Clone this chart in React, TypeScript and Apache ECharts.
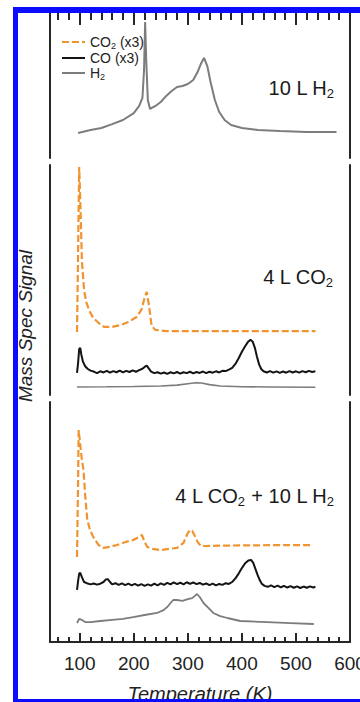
import React, { useEffect, useRef } from "react";
import * as echarts from "echarts";

// ---------- axis ticks ----------
const TEMP_MIN = 45;
const TEMP_MAX = 600;
const MAJOR_TICKS = [100, 200, 300, 400, 500, 600];
const MINOR_TICKS = [60, 80, 120, 140, 160, 180, 220, 240, 260, 280, 320, 340, 360, 380, 420, 440, 460, 480, 520, 540, 560, 580];

// ---------- legend / names ----------
const NAME_CO2 = "CO2 (x3)";
const NAME_CO = "CO (x3)";
const NAME_H2 = "H2";
const LEGEND_NAMES = [NAME_CO2, NAME_CO, NAME_H2];

// ---------- panel 1 : 10 L H2 ----------
const p1H2T = [97, 120, 140, 160, 180, 200, 210, 216, 219, 221, 223, 226, 230, 240, 250, 260, 270, 280, 290, 300, 310, 318, 324, 330, 336, 342, 350, 358, 368, 380, 400, 430, 470, 520, 575];
const p1H2V = [17.2, 19.3, 20.7, 23.4, 26.2, 31, 35.9, 41.4, 60.7, 93.8, 67.6, 40, 33.8, 35.9, 38.6, 42.8, 46.2, 49, 49.7, 51, 53.8, 59.3, 64.8, 69, 63.4, 52.4, 40, 31.7, 26.2, 22.8, 20.7, 19.3, 18.6, 17.9, 17.9];

// ---------- panel 2 : 4 L CO2 ----------
const p2CO2T = [95, 97, 99, 101, 104, 108, 112, 118, 125, 135, 145, 160, 175, 190, 205, 214, 220, 224, 228, 233, 240, 260, 300, 350, 400, 450, 500, 536];
const p2CO2V = [27.4, 63, 99.1, 84.8, 58.7, 45.7, 40.4, 36.5, 33.5, 31.3, 29.6, 29.6, 30.4, 31.7, 33.9, 37, 42.2, 44.8, 39.1, 30, 28.3, 27.8, 27.8, 27.8, 27.8, 27.8, 27.8, 27.8];

const p2COT = [95, 97, 99, 101, 103, 106, 110, 115, 120, 126, 132, 138, 144, 150, 156, 162, 168, 174, 180, 186, 192, 198, 204, 210, 216, 220, 224, 228, 232, 238, 244, 250, 256, 262, 268, 274, 280, 286, 292, 298, 304, 310, 316, 322, 328, 334, 340, 346, 352, 358, 364, 370, 376, 382, 388, 394, 400, 406, 411, 416, 420, 424, 428, 432, 436, 440, 446, 452, 458, 464, 470, 476, 482, 488, 494, 500, 506, 512, 518, 524, 530, 536];
const p2COV = [9.6, 14, 20, 20.5, 17.5, 14.5, 12.5, 11.3, 10.6, 10.2, 9.5, 10.3, 9.8, 10.5, 9.7, 10.4, 9.9, 10.6, 9.8, 10.5, 10.0, 10.7, 10.1, 10.8, 11.4, 12.2, 12.8, 11.5, 10.2, 9.5, 9.9, 9.3, 9.8, 9.2, 9.9, 9.4, 10.0, 9.3, 9.9, 9.5, 10.1, 9.4, 10.0, 9.6, 10.2, 9.5, 10.1, 9.7, 10.3, 9.8, 10.5, 10.4, 11.0, 11.8, 13.5, 16.0, 18.8, 21.2, 23.0, 24.0, 23.2, 20.5, 16.5, 13.2, 11.2, 10.3, 9.8, 10.4, 9.7, 10.3, 9.6, 10.2, 9.7, 10.4, 9.8, 10.3, 9.7, 10.4, 9.9, 10.5, 10.0, 10.3];

const p2H2T = [95, 150, 200, 250, 280, 300, 315, 325, 340, 360, 400, 450, 536];
const p2H2V = [3.5, 3.6, 3.7, 3.9, 4.3, 4.9, 5.3, 5.2, 4.5, 3.9, 3.6, 3.5, 3.4];

// ---------- panel 3 : 4 L CO2 + 10 L H2 ----------
const p3CO2T = [95, 97, 98, 100, 104, 107, 110, 114, 119, 125, 135, 144, 155, 169, 185, 199, 210, 215, 220, 225, 235, 249, 265, 280, 292, 299, 304, 308, 313, 318, 324, 332, 380, 430, 480, 530];
const p3CO2V = [35.4, 67.5, 88.3, 84.2, 75.8, 71.7, 61.3, 50.8, 46.7, 43.8, 40.4, 39.2, 39.6, 40.4, 41.7, 42.5, 43.8, 44.6, 41.7, 39.6, 38.8, 38.3, 38.8, 39.2, 41.3, 45, 46.7, 46.3, 44.2, 41.7, 40, 40, 40.2, 40.3, 40.4, 40.4];

const p3COT = [95, 97, 99, 101, 104, 108, 113, 120, 126, 132, 138, 144, 148, 152, 156, 160, 166, 172, 178, 184, 190, 196, 202, 208, 214, 220, 226, 232, 238, 244, 250, 256, 262, 268, 274, 280, 286, 292, 298, 304, 310, 316, 322, 328, 334, 340, 346, 352, 358, 364, 370, 376, 382, 388, 394, 400, 406, 412, 417, 421, 425, 429, 433, 437, 442, 448, 454, 460, 466, 472, 478, 484, 490, 496, 502, 508, 514, 520, 526, 532, 536];
const p3COV = [21.7, 25.5, 28.5, 28.8, 27, 25, 24.5, 24.0, 24.4, 23.9, 24.3, 25.0, 26.0, 26.2, 25.0, 24.0, 24.5, 23.8, 24.4, 23.7, 24.3, 23.6, 24.2, 23.5, 24.1, 23.4, 24.0, 23.5, 24.3, 23.6, 24.4, 23.8, 24.6, 24.0, 24.8, 24.1, 24.7, 24.0, 24.9, 24.2, 24.8, 24.1, 24.6, 23.9, 24.4, 23.7, 24.3, 23.6, 24.2, 23.8, 24.5, 24.2, 25.0, 26.5, 28.5, 30.8, 32.8, 34.0, 34.2, 33.0, 30.5, 28.0, 25.8, 24.2, 23.4, 23.0, 23.6, 22.9, 23.5, 22.8, 23.4, 22.7, 23.3, 22.6, 23.2, 22.5, 23.1, 22.6, 23.2, 22.7, 23.0];

const p3H2T = [95, 99, 104, 110, 120, 138, 160, 180, 199, 220, 243, 255, 262, 268, 273, 280, 290, 300, 308, 313, 317, 322, 329, 338, 347, 360, 373, 397, 447, 490, 533];
const p3H2V = [7.9, 9.6, 9.2, 8.3, 8.3, 8.75, 9.2, 9.6, 10.4, 11.25, 12.1, 13.3, 14.6, 16.25, 17.5, 17.5, 17.1, 17.9, 18.3, 19.2, 20, 18.75, 16.25, 14.2, 12.1, 10.8, 10, 8.75, 8.3, 7.9, 7.5];

// ---------- styling ----------
const FONT = "'Liberation Sans', Arial, Helvetica, sans-serif";
const ORANGE = "#ef9431";
const BLACK = "#141414";
const GRAY = "#7c7c7c";
const AXIS = "#262626";
const BLUE = "#0c0cff";

const zip = (t: number[], v: number[]) => t.map((x, i) => [x, v[i]]);

function buildOption() {
  const frameY = (gridIndex: number, position: "left" | "right") => ({
    type: "value",
    gridIndex,
    position,
    min: 0,
    max: 100,
    axisLine: { show: true, onZero: false, lineStyle: { color: AXIS, width: 2 } },
    axisTick: { show: false },
    axisLabel: { show: false },
    splitLine: { show: false },
  });

  const baseX = {
    type: "value",
    min: TEMP_MIN,
    max: TEMP_MAX,
    splitLine: { show: false },
  };

  const xAxis = [
    {
      ...baseX,
      gridIndex: 0,
      position: "top",
      axisLine: { show: false, onZero: false },
      axisLabel: { show: false },
      axisTick: { show: true, inside: true, length: 12, customValues: MAJOR_TICKS, lineStyle: { color: AXIS, width: 2 } },
    },
    {
      ...baseX,
      gridIndex: 0,
      position: "top",
      axisLine: { show: false, onZero: false },
      axisLabel: { show: false },
      axisTick: { show: true, inside: true, length: 7, customValues: MINOR_TICKS, lineStyle: { color: AXIS, width: 2 } },
    },
    {
      ...baseX,
      gridIndex: 1,
      position: "bottom",
      axisLine: { show: false, onZero: false },
      axisLabel: { show: false },
      axisTick: { show: false },
    },
    {
      ...baseX,
      gridIndex: 2,
      position: "bottom",
      axisLine: { show: true, onZero: false, lineStyle: { color: AXIS, width: 2 } },
      axisTick: { show: true, inside: true, length: 9, customValues: MAJOR_TICKS, lineStyle: { color: AXIS, width: 2 } },
      axisLabel: { show: true, customValues: MAJOR_TICKS, margin: 12, fontSize: 19, color: "#222", fontFamily: FONT },
      name: "Temperature (K)",
      nameLocation: "middle",
      nameGap: 42,
      nameTextStyle: { fontSize: 20, fontStyle: "italic", color: "#222", fontFamily: FONT },
    },
    {
      ...baseX,
      gridIndex: 2,
      position: "bottom",
      axisLine: { show: false, onZero: false },
      axisLabel: { show: false },
      axisTick: { show: true, inside: true, length: 5, customValues: MINOR_TICKS, lineStyle: { color: AXIS, width: 2 } },
    },
  ];

  const yAxis = [frameY(0, "left"), frameY(0, "right"), frameY(1, "left"), frameY(1, "right"), frameY(2, "left"), frameY(2, "right")];

  const co2Style = { color: ORANGE, width: 2.2, type: [7, 3] as any };
  const coStyle = { color: BLACK, width: 2 };
  const h2Style = { color: GRAY, width: 2 };

  const line = (name: string, xi: number, yi: number, data: number[][], lineStyle: any) => ({
    type: "line",
    name,
    xAxisIndex: xi,
    yAxisIndex: yi,
    data,
    symbol: "none",
    showSymbol: false,
    lineStyle,
    itemStyle: { color: lineStyle.color },
    emphasis: { disabled: true },
  });

  const series = [
    line(NAME_CO2, 2, 2, zip(p2CO2T, p2CO2V), co2Style),
    line(NAME_CO, 2, 2, zip(p2COT, p2COV), coStyle),
    line(NAME_H2, 0, 0, zip(p1H2T, p1H2V), h2Style),
    line(NAME_H2, 2, 2, zip(p2H2T, p2H2V), { ...h2Style, width: 1.6 }),
    line(NAME_CO2, 3, 4, zip(p3CO2T, p3CO2V), co2Style),
    line(NAME_CO, 3, 4, zip(p3COT, p3COV), coStyle),
    line(NAME_H2, 3, 4, zip(p3H2T, p3H2V), { ...h2Style, width: 1.8 }),
  ];

  const labelRich = {
    t: { fontSize: 20, lineHeight: 24, fontFamily: FONT, fill: "#1a1a1a", color: "#1a1a1a" },
    s: { fontSize: 13, lineHeight: 12, verticalAlign: "bottom", fontFamily: FONT, fill: "#1a1a1a", color: "#1a1a1a" },
  };

  const panelLabel = (text: string, x: number, y: number) => ({
    type: "text",
    x,
    y,
    z: 50,
    style: {
      text,
      rich: labelRich,
      align: "right",
      verticalAlign: "middle",
      fill: "#1a1a1a",
      font: `20px ${FONT}`,
    },
  });

  const graphic = [
    panelLabel("{t|10 L H}{s|2}", 334, 88),
    panelLabel("{t|4 L CO}{s|2}", 333, 277),
    panelLabel("{t|4 L CO}{s|2}{t| + 10 L H}{s|2}", 334, 496),
    {
      type: "text",
      x: 25,
      y: 326,
      rotation: Math.PI / 2,
      z: 50,
      style: {
        text: "Mass Spec Signal",
        align: "center",
        verticalAlign: "middle",
        fill: "#222",
        font: `italic 19px ${FONT}`,
      },
    },
    { type: "rect", z: 100, shape: { x: 13, y: 7, width: 347, height: 6 }, style: { fill: BLUE } },
    { type: "rect", z: 100, shape: { x: 13, y: 7, width: 5, height: 695 }, style: { fill: BLUE } },
    { type: "rect", z: 100, shape: { x: 13, y: 699, width: 347, height: 3 }, style: { fill: BLUE } },
  ];

  return {
    animation: false,
    backgroundColor: "#ffffff",
    grid: [
      { left: 50, right: 10, top: 13, height: 145, outerBoundsMode: "none" },
      { left: 50, right: 10, top: 165, height: 230, outerBoundsMode: "none" },
      { left: 50, right: 10, top: 402, height: 240, outerBoundsMode: "none" },
    ],
    legend: {
      data: LEGEND_NAMES,
      orient: "vertical",
      left: 56,
      top: 30,
      itemWidth: 23,
      itemHeight: 2,
      itemGap: 1,
      selectedMode: false,
      textStyle: {
        fontSize: 14,
        color: "#222",
        fontFamily: FONT,
        rich: {
          t: { fontSize: 14, lineHeight: 16, fontFamily: FONT, color: "#222" },
          s: { fontSize: 9, lineHeight: 9, verticalAlign: "bottom", fontFamily: FONT, color: "#222" },
        },
      },
      formatter: (name: string) => {
        if (name === NAME_CO2) return "{t|CO}{s|2}{t| (x3)}";
        if (name === NAME_CO) return "{t|CO (x3)}";
        return "{t|H}{s|2}";
      },
    },
    xAxis,
    yAxis,
    series,
    graphic,
  };
}

export default function App() {
  const ref = useRef<HTMLDivElement>(null);
  useEffect(() => {
    if (!ref.current) return;
    const chart = echarts.init(ref.current, undefined, { renderer: "svg" });
    chart.setOption(buildOption() as any);
    return () => chart.dispose();
  }, []);
  return (
    <div
      ref={ref}
      style={{ position: "fixed", left: 0, top: 0, width: 360, height: 702, background: "#fff" }}
    />
  );
}
